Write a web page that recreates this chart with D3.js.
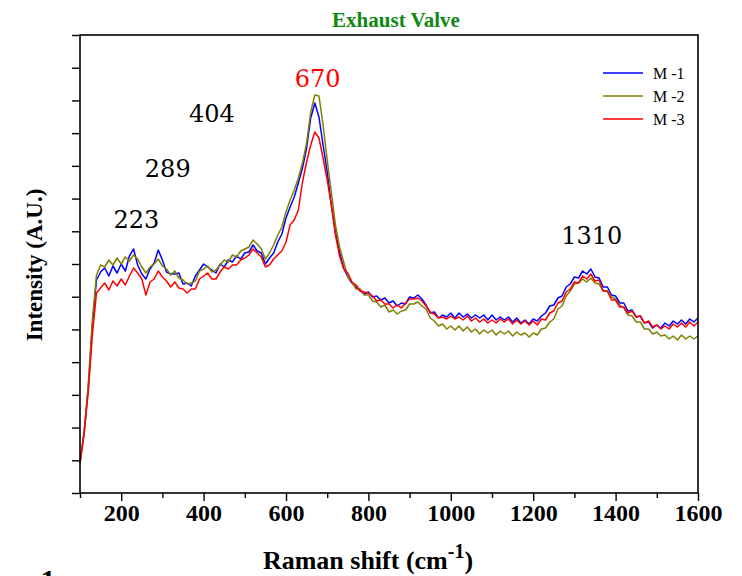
<!DOCTYPE html>
<html><head><meta charset="utf-8">
<script src="https://cdn.jsdelivr.net/npm/d3@7"></script>
<style>
html,body{margin:0;padding:0;background:#fff;overflow:hidden}
svg{display:block}
</style></head>
<body>
<svg id="chart" width="742" height="576"></svg>
<script>
// Raman shift axis (cm-1), every 10 cm-1 from 100 to 1600
const shifts = d3.range(100, 1601, 10);

const m1 = [
30,61,105,168,213,221,225,217,227,220,
229,222,237,244,228,219,214,224,230,243,
233,221,219,219,220,209,210,207,217,223,
229,226,223,220,229,226,233,231,237,234,
240,241,248,242,240,229,235,240,251,259,
275,286,296,310,325,345,375,390,376,348,
321,288,261,241,225,216,210,206,202,199,
201,196,197,193,195,190,192,187,190,189,
196,195,198,194,188,180,181,175,178,176,
180,175,180,176,179,175,178,175,178,173,
178,173,176,173,176,171,175,170,173,169,
174,172,177,180,187,188,195,197,206,209,
216,215,222,219,224,216,215,206,206,198,
197,190,190,182,183,176,177,170,171,165,
168,165,170,167,172,169,173,169,174,171,
175];

const m2 = [
30,61,108,173,218,228,226,233,228,235,
229,236,232,238,234,226,220,226,229,234,
227,224,218,222,215,213,209,210,212,222,
224,227,221,223,228,233,231,238,236,242,
244,246,253,249,244,234,240,248,258,266,
281,293,303,315,330,350,381,398,397,368,
333,301,268,246,231,216,211,204,204,198,
198,192,191,186,188,181,183,179,182,183,
189,189,191,187,184,175,172,167,169,164,
167,163,167,162,166,161,164,159,163,160,
163,158,162,159,162,157,161,158,160,156,
160,158,164,165,171,174,184,187,197,202,
209,210,214,211,215,210,209,202,202,196,
194,188,185,178,177,171,171,164,164,159,
161,157,158,154,157,153,158,154,157,154,
157];

const m3 = [
30,59,101,158,200,205,210,203,212,207,
214,208,217,225,220,214,198,211,214,222,
216,212,206,211,205,204,200,204,204,214,
217,220,214,214,221,226,224,228,228,233,
235,238,244,240,236,226,228,234,238,242,
251,268,273,283,311,331,348,361,355,335,
313,288,258,237,224,220,211,208,202,201,
200,197,192,193,189,189,185,188,185,190,
194,194,195,192,187,181,179,175,176,174,
177,174,176,173,177,172,175,171,174,170,
173,170,174,171,174,169,173,169,172,168,
172,168,174,173,180,182,190,192,201,204,
211,210,217,214,219,212,213,202,202,193,
193,186,186,180,182,176,177,170,172,166,
168,164,167,164,169,166,170,166,171,167,
171];

const seriesNames = ["M -1", "M -2", "M -3"];
const seriesColors = ["#0000ff", "#808000", "#ff0000"];
const seriesValues = [m1, m2, m3];

const xMajorTicks = [200,400,600,800,1000,1200,1400,1600];
const xMinorTicks = [100,300,500,700,900,1100,1300,1500];

const peakLabels = ["223","289","404","670","1310"];
const peakLabelX = [237, 313, 420, 677, 1342];
const peakLabelY = [265, 316, 371, 406, 249];
const peakLabelColors = ["#000","#000","#000","#ff0000","#000"];

const svg = d3.select("#chart");
const L = 80, R = 698, T = 35, B = 493;

const x = d3.scaleLinear().domain([100, 1600]).range([L, R]);
const y = d3.scaleLinear().domain([0, 458]).range([B, T]);
const yTicks = d3.range(0, 15).map(i => i * 458 / 14);

// curves
const line = d3.line().x((d, i) => x(shifts[i])).y(d => y(d));
svg.append("g")
  .selectAll("path").data(seriesValues).join("path")
  .attr("d", d => line(d))
  .attr("fill", "none")
  .attr("stroke", (d, i) => seriesColors[i])
  .attr("stroke-width", 1.5)
  .attr("stroke-linejoin", "round");

// frame
svg.append("rect").attr("x", L).attr("y", T).attr("width", R - L).attr("height", B - T)
  .attr("fill", "none").attr("stroke", "#000").attr("stroke-width", 1.6);

// y axis ticks (no labels)
const yAxis = svg.append("g").attr("transform", `translate(${L},0)`)
  .call(d3.axisLeft(y).tickValues(yTicks).tickFormat("").tickSize(8).tickSizeOuter(0));
yAxis.select(".domain").remove();
yAxis.selectAll("line").attr("stroke-width", 1.4);

// x axis
const xAxis = svg.append("g").attr("transform", `translate(0,${B})`)
  .call(d3.axisBottom(x).tickValues(xMajorTicks).tickFormat(d3.format("d"))
    .tickSize(8).tickSizeOuter(0).tickPadding(3));
xAxis.select(".domain").remove();
xAxis.selectAll("line").attr("stroke-width", 1.4);
xAxis.selectAll("text").attr("font-family", "'Liberation Serif', serif")
  .attr("font-weight", "bold").attr("font-size", 24).attr("fill", "#000");
const xMinor = svg.append("g").attr("transform", `translate(0,${B})`)
  .call(d3.axisBottom(x).tickValues(xMinorTicks).tickFormat("").tickSize(5).tickSizeOuter(0));
xMinor.select(".domain").remove();
xMinor.selectAll("line").attr("stroke-width", 1.4);

// titles
svg.append("text").attr("x", 396).attr("y", 27).attr("text-anchor", "middle")
  .attr("font-family", "'Liberation Serif', serif").attr("font-weight", "bold")
  .attr("font-size", 21).attr("fill", "#118811").text("Exhaust Valve");

const xt = svg.append("text").attr("x", 368).attr("y", 569).attr("text-anchor", "middle")
  .attr("font-family", "'Liberation Serif', serif").attr("font-weight", "bold")
  .attr("font-size", 26).attr("fill", "#000");
xt.append("tspan").text("Raman shift (cm");
xt.append("tspan").attr("dy", -11).attr("font-size", 20).text("-1");
xt.append("tspan").attr("dy", 11).text(")");

svg.append("text").attr("transform", "translate(42,265) rotate(-90)").attr("text-anchor", "middle")
  .attr("font-family", "'Liberation Serif', serif").attr("font-weight", "bold")
  .attr("font-size", 23).attr("fill", "#000").text("Intensity (A.U.)");

// partly visible panel label at bottom left
svg.append("text").attr("x", 48).attr("y", 590).attr("text-anchor", "middle")
  .attr("font-family", "'Liberation Serif', serif").attr("font-weight", "bold")
  .attr("font-size", 30).attr("fill", "#000").text("1");

// peak labels
svg.append("g").selectAll("text").data(peakLabels).join("text")
  .attr("x", (d, i) => x(peakLabelX[i])).attr("y", (d, i) => y(peakLabelY[i]))
  .attr("text-anchor", "middle")
  .attr("font-family", "'DejaVu Serif', serif").attr("font-size", 24)
  .attr("fill", (d, i) => peakLabelColors[i]).text(d => d);

// legend
const lg = svg.append("g").selectAll("g").data(seriesNames).join("g")
  .attr("transform", (d, i) => `translate(603,${73 + i * 23})`);
lg.append("line").attr("x1", 0).attr("x2", 40).attr("y1", 0).attr("y2", 0)
  .attr("stroke", (d, i) => seriesColors[i]).attr("stroke-width", 1.4);
lg.append("text").attr("x", 50).attr("y", 5.5)
  .attr("font-family", "'Liberation Serif', serif").attr("font-size", 16)
  .attr("fill", "#000").text(d => d);
</script>
</body></html>
